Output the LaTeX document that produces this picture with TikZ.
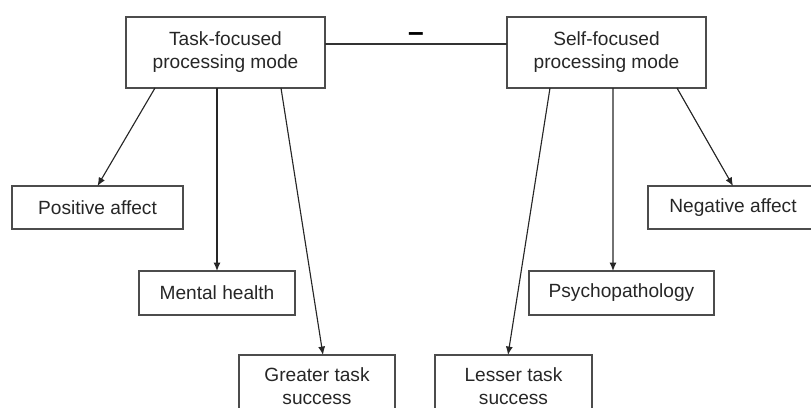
\documentclass[tikz,border=0pt]{standalone}
\usepackage{fontspec}
\setmainfont{Liberation Sans}
\usepackage{tikz}
\usetikzlibrary{calc,arrows.meta}

\tikzset{
  modebox/.style={draw=black!70,line width=0.8pt,text=black!85,align=center,
    inner sep=0pt,outer sep=0pt,font=\fontsize{13.6}{16.3}\selectfont},
  link/.style={black!85,line width=0.8pt,-{Latex[length=6pt,width=5pt]}}
}

\begin{document}
\begin{tikzpicture}[x=0.025cm,y=-0.025cm]
\useasboundingbox (0,0) rectangle (811,408);
\clip (0,0) rectangle (811,408);
% the two modes
\node[modebox,minimum width=4.975cm,minimum height=1.775cm] (task) at (225.5,52.5) {Task-focused\\processing mode};
\node[modebox,minimum width=4.975cm,minimum height=1.775cm] (self) at (606.5,52.5) {Self-focused\\processing mode};
\draw[black!80,line width=0.8pt] ($(task.east)+(0,-8.5)$) -- ($(self.west)+(0,-8.5)$)
  node[midway,above=-2pt,text=black,font=\fontsize{20}{20}\selectfont\bfseries] (minus) {--};
% outcomes
\node[modebox,minimum width=4.275cm,minimum height=1.075cm] (pos) at (97.5,207.5) {Positive affect};
\node[modebox,minimum width=3.9cm,minimum height=1.1cm] (mental) at (217,293) {Mental health};
\node[modebox,minimum width=3.9cm,minimum height=1.55cm] (greater) at (317,386) {Greater task\\success};
\node[modebox,minimum width=3.925cm,minimum height=1.55cm] (lesser) at (513.5,386) {Lesser task\\success};
\node[modebox,minimum width=4.625cm,minimum height=1.1cm] (psych) at (621.5,293) {Psychopathology};
\node[modebox,minimum width=4.25cm,minimum height=1.075cm] (neg) at (733,207.5) {Negative affect};
% arrows
\draw[link] ($(task.south)+(-70.5,0)$) -- (pos.north);
\draw[link] (task.south -| mental.north) -- (mental.north);
\draw[link] ($(task.south)+(55.5,0)$) -- ($(greater.north)+(6,0)$);
\draw[link] ($(self.south)+(-56.5,0)$) -- ($(lesser.north)+(-5.5,0)$);
\draw[link] ($(self.south)+(6.5,0)$) -- ($(psych.north)+(-8.5,0)$);
\draw[link] ($(self.south)+(70.5,0)$) -- (neg.north);
\end{tikzpicture}
\end{document}
